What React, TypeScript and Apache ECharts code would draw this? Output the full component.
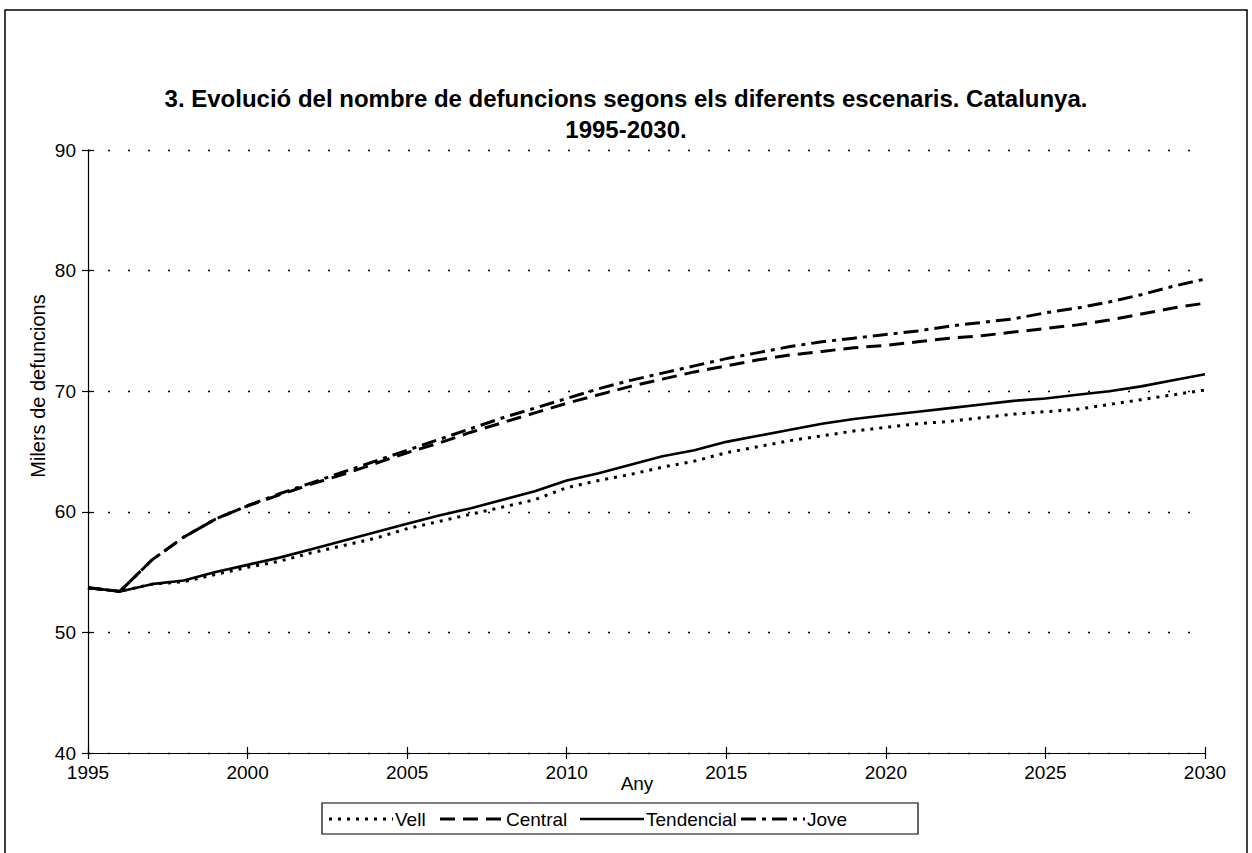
import React, { useEffect, useRef } from "react";
import * as echarts from "echarts";

const years = [
  1995, 1996, 1997, 1998, 1999, 2000, 2001, 2002, 2003, 2004, 2005, 2006,
  2007, 2008, 2009, 2010, 2011, 2012, 2013, 2014, 2015, 2016, 2017, 2018,
  2019, 2020, 2021, 2022, 2023, 2024, 2025, 2026, 2027, 2028, 2029, 2030,
];

const vell = [
  53.7, 53.4, 54.0, 54.2, 54.8, 55.4, 55.9, 56.6, 57.2, 57.8, 58.6, 59.2,
  59.8, 60.4, 61.0, 62.0, 62.6, 63.1, 63.7, 64.2, 64.9, 65.4, 65.9, 66.3,
  66.7, 67.0, 67.3, 67.5, 67.8, 68.1, 68.3, 68.5, 68.9, 69.3, 69.7, 70.1,
];

const central = [
  53.7, 53.4, 56.0, 57.9, 59.4, 60.5, 61.4, 62.3, 63.1, 64.0, 64.9, 65.7,
  66.6, 67.4, 68.2, 69.0, 69.7, 70.4, 71.0, 71.6, 72.1, 72.6, 73.0, 73.3,
  73.6, 73.8, 74.1, 74.4, 74.6, 74.9, 75.2, 75.5, 75.9, 76.4, 76.9, 77.3,
];

const tendencial = [
  53.7, 53.4, 54.0, 54.3, 55.0, 55.6, 56.2, 56.9, 57.6, 58.3, 59.0, 59.7,
  60.3, 61.0, 61.7, 62.6, 63.2, 63.9, 64.6, 65.1, 65.8, 66.3, 66.8, 67.3,
  67.7, 68.0, 68.3, 68.6, 68.9, 69.2, 69.4, 69.7, 70.0, 70.4, 70.9, 71.4,
];

const jove = [
  53.7, 53.4, 56.0, 57.9, 59.4, 60.5, 61.5, 62.4, 63.3, 64.2, 65.1, 66.0,
  66.9, 67.8, 68.6, 69.4, 70.2, 70.9, 71.5, 72.1, 72.7, 73.2, 73.7, 74.1,
  74.4, 74.7, 75.0, 75.4, 75.7, 76.0, 76.5, 76.9, 77.4, 78.0, 78.7, 79.3,
];

const seriesNames = ["Vell", "Central", "Tendencial", "Jove"];
const titleText =
  "3. Evolució del nombre de defuncions segons els diferents escenaris. Catalunya.\n1995-2030.";
const yAxisName = "Milers de defuncions";
const xAxisName = "Any";

const FONT = "'Liberation Sans', Arial, Helvetica, sans-serif";

export default function App() {
  const ref = useRef<HTMLDivElement>(null);

  useEffect(() => {
    if (!ref.current) return;
    const chart = echarts.init(ref.current, undefined, { renderer: "svg" });
    const pair = (arr: number[]) => years.map((y, i) => [y, arr[i]]);
    const dashes: any[] = [[3, 6], [15, 8], "solid", [15, 6, 4, 6]];
    const legendDash: any[] = [[3, 6], [15, 8], null, [15, 6, 4, 6]];
    const datas = [vell, central, tendencial, jove];

    // manual legend, Excel style: line sample then label
    const legendLineX = [329, 440, 580, 741];
    const legendLineW = 64;
    const legendY = 819;
    const legendEls: any[] = [
      {
        type: "rect",
        shape: { x: 322, y: 803, width: 596, height: 31 },
        style: { fill: "#fff", stroke: "#000", lineWidth: 1.2 },
        silent: true,
      },
    ];
    seriesNames.forEach((name, i) => {
      legendEls.push({
        type: "line",
        shape: {
          x1: legendLineX[i],
          y1: legendY,
          x2: legendLineX[i] + legendLineW,
          y2: legendY,
        },
        style: {
          stroke: "#000",
          lineWidth: i === 2 ? 2.6 : 3,
          lineDash: legendDash[i],
        },
        silent: true,
      });
      legendEls.push({
        type: "text",
        x: legendLineX[i] + legendLineW + 2,
        y: legendY,
        style: {
          text: name,
          fontFamily: FONT,
          fontSize: 19,
          fill: "#000",
          verticalAlign: "middle",
          align: "left",
        },
        silent: true,
      });
    });

    chart.setOption({
      animation: false,
      backgroundColor: "#fff",
      title: {
        text: titleText,
        left: "center",
        top: 78,
        textStyle: {
          fontFamily: FONT,
          fontSize: 24,
          fontWeight: "bold",
          color: "#000",
          lineHeight: 31,
        },
      },
      graphic: [
        {
          type: "rect",
          shape: { x: 5, y: 10, width: 1242, height: 870 },
          style: { fill: "none", stroke: "#000", lineWidth: 1.5 },
          silent: true,
        },
        {
          type: "text",
          x: 38,
          y: 386,
          rotation: Math.PI / 2,
          style: {
            text: yAxisName,
            fontFamily: FONT,
            fontSize: 20,
            fill: "#000",
            align: "center",
            verticalAlign: "middle",
          },
          silent: true,
        },
        {
          type: "text",
          x: 637,
          y: 783,
          style: {
            text: xAxisName,
            fontFamily: FONT,
            fontSize: 19,
            fill: "#000",
            align: "center",
            verticalAlign: "middle",
          },
          silent: true,
        },
        ...legendEls,
      ],
      grid: { left: 88, right: 47, top: 150, bottom: 100, containLabel: false },
      xAxis: [
        {
          type: "value",
          min: 1995,
          max: 2030,
          interval: 5,
          axisLine: { lineStyle: { color: "#000", width: 1.2 } },
          axisTick: { length: 6, lineStyle: { color: "#000", width: 1.2 } },
          axisLabel: {
            fontFamily: FONT,
            fontSize: 19,
            color: "#000",
            margin: 10,
            formatter: (v: number) => String(v),
          },
          splitLine: { show: false },
        },
        {
          type: "value",
          min: 1995,
          max: 2030,
          interval: 5,
          position: "bottom",
          axisLine: { show: false },
          axisTick: { inside: true, length: 6, lineStyle: { color: "#000", width: 1.2 } },
          axisLabel: { show: false },
          splitLine: { show: false },
        },
      ],
      yAxis: [
        {
          type: "value",
          min: 40,
          max: 90,
          interval: 10,
          axisLine: { show: true, lineStyle: { color: "#000", width: 1.2 } },
          axisTick: { show: true, length: 6, lineStyle: { color: "#000", width: 1.2 } },
          axisLabel: { fontFamily: FONT, fontSize: 19, color: "#000", margin: 12 },
          splitLine: {
            show: true,
            lineStyle: { color: "#000", width: 1.3, type: [2, 18] },
          },
        },
        {
          type: "value",
          min: 40,
          max: 90,
          interval: 10,
          position: "left",
          axisLine: { show: false },
          axisTick: { show: true, inside: true, length: 6, lineStyle: { color: "#000", width: 1.2 } },
          axisLabel: { show: false },
          splitLine: { show: false },
        },
      ],
      series: seriesNames.map((name, i) => ({
        name,
        type: "line",
        data: pair(datas[i]),
        symbol: "none",
        showSymbol: false,
        z: 4 - i,
        lineStyle: { color: "#000", width: i === 2 ? 2.6 : 3, type: dashes[i] },
        itemStyle: { color: "#000" },
      })),
    });

    return () => chart.dispose();
  }, []);

  return (
    <div
      ref={ref}
      style={{ position: "fixed", left: 0, top: 0, width: 1252, height: 853 }}
    />
  );
}
